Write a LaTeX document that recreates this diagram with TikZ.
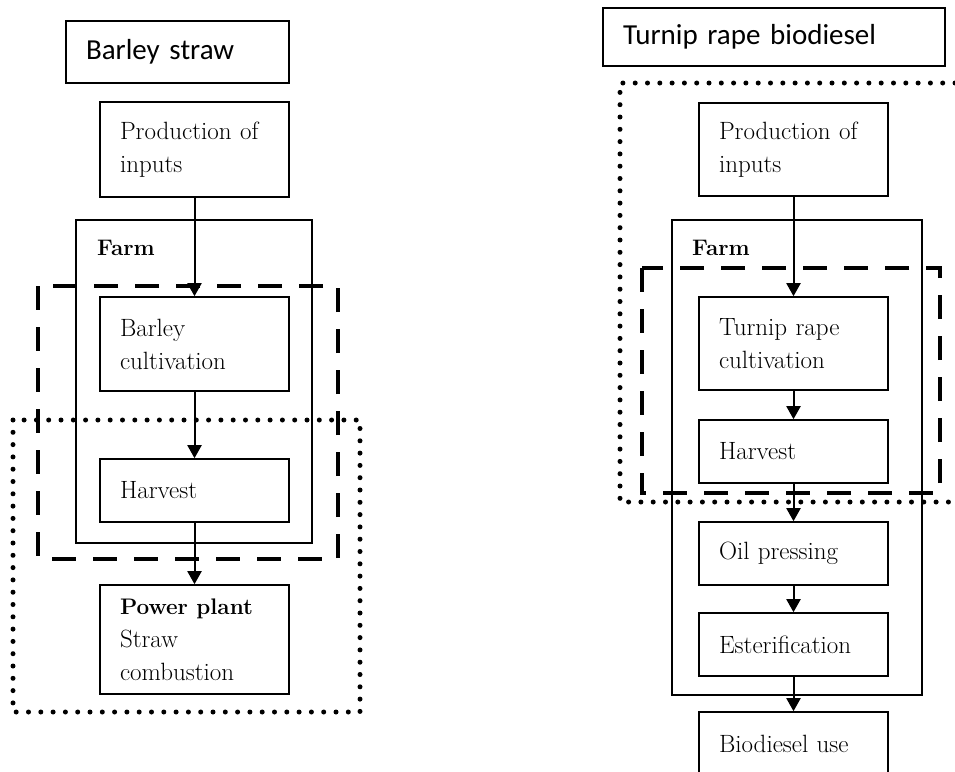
\documentclass[tikz,border=0pt]{standalone}
\usepackage{fontspec}
\newfontfamily\titlefont{Carlito}
\usetikzlibrary{arrows.meta}
\begin{document}
\begin{tikzpicture}[x=1pt,y=-1pt,
  stepbox/.style={draw, line width=1.6pt, rectangle, inner xsep=20pt, inner ysep=0pt,
    text width=149pt, align=left, font=\fontsize{25}{33}\selectfont},
  container/.style={draw, line width=1.6pt, rectangle, inner sep=0pt},
  titlebox/.style={draw, line width=1.6pt, rectangle, inner xsep=20pt, inner ysep=0pt,
    align=left, font=\titlefont\fontsize{29}{35}\selectfont},
  farmlabel/.style={inner sep=0pt, anchor=base west, font=\bfseries\fontsize{22.5}{26}\selectfont},
  flow/.style={-{Triangle[length=13pt,width=14pt]}, line width=2pt},
  dashbound/.style={line width=4.5pt, dash pattern=on 24pt off 17pt},
  dotbound/.style={line width=5pt, dash pattern=on 0pt off 12.3pt, line cap=round}]
\useasboundingbox (0,0) rectangle (955,771);
\clip (0,0) rectangle (955,771);

% ---------------- Barley straw ----------------
\node[titlebox, text width=183pt, minimum height=62pt] (titleL) at (177.5,52) {Barley straw};
\node[container, minimum width=236pt, minimum height=323pt] (farmL) at (194,381.5) {};
\node[farmlabel] (farmLlab) at (97,255) {Farm};

\node[stepbox, minimum height=95pt] (prodL) at (194.5,149.5) {Production of\\inputs};
\node[stepbox, minimum height=94pt] (cultL) at (194.5,344) {Barley\\cultivation};
\node[stepbox, minimum height=63pt] (harvL) at (194.5,490.5) {Harvest};
\node[stepbox, minimum height=109pt] (powerL) at (194.5,639.5)
  {{\bfseries\fontsize{22.5}{33}\selectfont Power plant}\\Straw\\combustion};

\draw[dashbound] (38,286) rectangle (338,559);
\draw[dotbound] (13,420) rectangle (360,712);

\draw[flow] (prodL) -- (cultL);
\draw[flow] (cultL) -- (harvL);
\draw[flow] (harvL) -- (powerL);

% ---------------- Turnip rape biodiesel ----------------
\node[titlebox, text width=302pt, minimum height=58pt] (titleR) at (774,37) {Turnip rape biodiesel};
\node[container, minimum width=250pt, minimum height=475pt] (farmR) at (797,457.5) {};
\node[farmlabel] (farmRlab) at (692,255) {Farm};

\node[stepbox, minimum height=93pt] (prodR) at (793.5,149.5) {Production of\\inputs};
\node[stepbox, minimum height=93pt] (cultR) at (793.5,343.5) {Turnip rape\\cultivation};
\node[stepbox, minimum height=63pt] (harvR) at (793.5,451.5) {Harvest};
\node[stepbox, minimum height=63pt] (oilR) at (793.5,553.5) {Oil pressing};
\node[stepbox, minimum height=63pt] (estR) at (793.5,644.5) {Esterification};
\node[stepbox, minimum height=63pt] (bioR) at (793.5,743.5) {Biodiesel use};

\draw[dashbound] (642,268) rectangle (940,493);
\draw[dotbound] (955,83) -- (620,83) -- (620,502) -- (955,502);

\draw[flow] (prodR) -- (cultR);
\draw[flow] (cultR) -- (harvR);
\draw[flow] (harvR) -- (oilR);
\draw[flow] (oilR) -- (estR);
\draw[flow] (estR) -- (bioR);
\end{tikzpicture}
\end{document}
